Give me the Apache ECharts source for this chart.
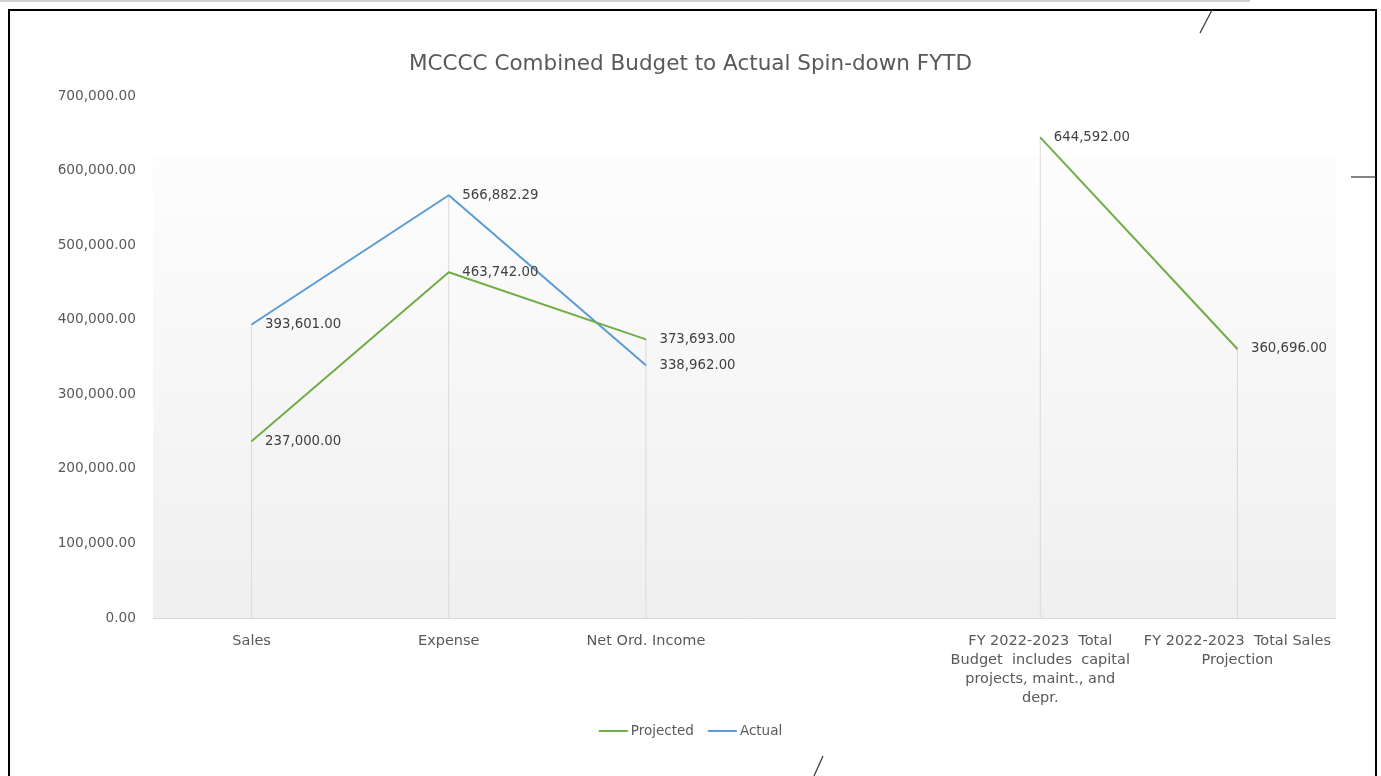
<!DOCTYPE html>
<html><head><meta charset="utf-8">
<script src="https://cdn.jsdelivr.net/npm/echarts@6/dist/echarts.min.js"></script>
<style>html,body{margin:0;padding:0;background:#fff}#c{width:1381px;height:776px}</style>
</head><body><div id="c"></div>
<script>
const categories = ['Sales', 'Expense', 'Net Ord. Income', '', 'FY 2022-2023  Total\nBudget  includes  capital\nprojects, maint., and\ndepr.', 'FY 2022-2023  Total Sales\nProjection'];
const projected = [237000, 463742, 373693, null, 644592, 360696];
const actual = [393601, 566882.29, 338962, null, null, null];
const yTicks = [0, 100000, 200000, 300000, 400000, 500000, 600000, 700000];

const dropLines = categories.map((c, i) => {
  const vals = [projected[i], actual[i]].filter(v => v != null);
  return vals.length ? Math.max(...vals) : null;
});
const fmt = v => Number(v).toLocaleString('en-US', {minimumFractionDigits: 2, maximumFractionDigits: 2});
const FONT = '"DejaVu Sans", "Noto Sans", sans-serif';
const lbl = {show: true, position: 'right', distance: 13, color: '#404040', fontSize: 13.3, fontFamily: FONT, formatter: p => fmt(p.value)};

const chart = echarts.init(document.getElementById('c'));
chart.setOption({
  backgroundColor: '#fff',
  animation: false,
  title: {
    text: 'MCCCC Combined Budget to Actual Spin-down FYTD',
    left: 'center', top: 48,
    textStyle: {color: '#595959', fontSize: 21.5, fontWeight: 'normal', fontFamily: FONT}
  },
  legend: {
    bottom: 33, left: 'center',
    data: ['Projected', 'Actual'],
    icon: 'rect', itemWidth: 29, itemHeight: 2, itemGap: 14, itemStyle: {borderWidth: 0},
    textStyle: {color: '#595959', fontSize: 13.5, fontFamily: FONT, padding: [0, 0, 0, -2]}
  },
  grid: {left: 153, right: 45, top: 96, bottom: 158},
  graphic: [
    {type: 'rect', z: -10, shape: {x: 153, y: 155, width: 1183, height: 463},
     style: {fill: new echarts.graphic.LinearGradient(0, 0, 0, 1, [{offset: 0, color: '#fdfdfd'}, {offset: 1, color: '#efefef'}])}},
    {type: 'line', shape: {x1: 0, y1: 1, x2: 1250, y2: 1}, style: {stroke: '#cfcfcf', lineWidth: 2}},
    {type: 'rect', shape: {x: 9, y: 10, width: 1367, height: 820}, style: {fill: 'none', stroke: '#000', lineWidth: 2}},
    {type: 'line', shape: {x1: 1212, y1: 10, x2: 1200, y2: 33}, style: {stroke: '#333', lineWidth: 1.2}},
    {type: 'line', shape: {x1: 1351, y1: 177, x2: 1376, y2: 177}, style: {stroke: '#333', lineWidth: 1.2}},
    {type: 'line', shape: {x1: 823, y1: 756, x2: 814, y2: 776}, style: {stroke: '#333', lineWidth: 1.2}}
  ],
  xAxis: {
    type: 'category', data: categories, boundaryGap: true,
    axisLine: {lineStyle: {color: '#d9d9d9', width: 1}},
    axisTick: {show: false},
    axisLabel: {interval: 0, color: '#595959', fontSize: 14.5, fontFamily: FONT, margin: 14, lineHeight: 19, align: 'center'}
  },
  yAxis: {
    type: 'value', min: 0, max: 700000, interval: 100000,
    axisLine: {show: false}, axisTick: {show: false}, splitLine: {show: false},
    axisLabel: {color: '#595959', fontSize: 13.7, fontFamily: FONT, margin: 17, formatter: v => fmt(v)}
  },
  series: [
    {name: 'drop', type: 'bar', data: dropLines, barWidth: 1, silent: true,
     itemStyle: {color: '#d9d9d9'}, z: 1, legendHoverLink: false},
    {name: 'Projected', type: 'line', data: projected, connectNulls: false,
     symbol: 'circle', symbolSize: 1, showSymbol: true,
     lineStyle: {color: '#70ad47', width: 2}, itemStyle: {color: '#70ad47'}, z: 3, label: lbl},
    {name: 'Actual', type: 'line', data: actual,
     symbol: 'circle', symbolSize: 1, showSymbol: true,
     lineStyle: {color: '#5b9bd5', width: 2}, itemStyle: {color: '#5b9bd5'}, z: 2, label: lbl}
  ]
});
</script></body></html>
